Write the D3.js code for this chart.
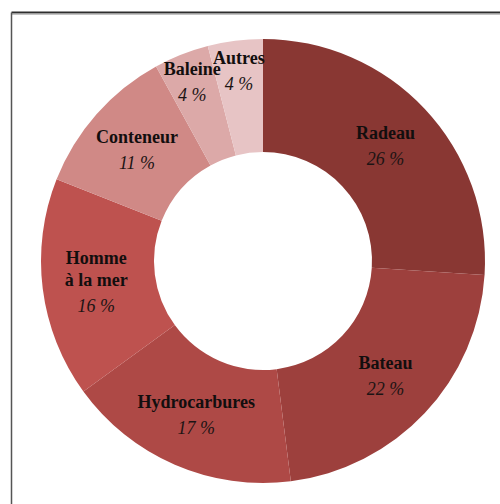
<!DOCTYPE html>
<html>
<head>
<meta charset="utf-8">
<script src="https://cdn.jsdelivr.net/npm/d3@7/dist/d3.min.js"></script>
<style>
  html, body { margin: 0; padding: 0; background: #fff; }
  svg { display: block; }
</style>
</head>
<body>
<svg id="chart" width="500" height="504"></svg>
<script>
// Répartition des objets signalés (en %)
const categories = ["Radeau", "Bateau", "Hydrocarbures", "Homme\nà la mer", "Conteneur", "Baleine", "Autres"];
const values = [26, 22, 17, 16, 11, 4, 4];
const colors = ["#893733", "#9d403d", "#ae4946", "#be524f", "#d08986", "#dca9a8", "#e7c4c5"];

const width = 500, height = 504;
const cx = 263, cy = 261;
const outerR = 222, innerR = 109;

const svg = d3.select("#chart");

// Cadre
svg.append("line").attr("x1", 11.5).attr("y1", 12.5).attr("x2", width).attr("y2", 12.5)
  .attr("stroke", "#2e2e2e").attr("stroke-width", 1.8);
svg.append("line").attr("x1", 11.5).attr("y1", 14.2).attr("x2", width).attr("y2", 14.2)
  .attr("stroke", "#aaa").attr("stroke-width", 1);
svg.append("line").attr("x1", 11.5).attr("y1", 12.5).attr("x2", 11.5).attr("y2", height)
  .attr("stroke", "#555").attr("stroke-width", 1.5);

const data = categories.map((c, i) => ({ name: c, value: values[i], color: colors[i] }));

const pie = d3.pie().value(d => d.value).sort(null);
const arcs = pie(data);

const arc = d3.arc().innerRadius(innerR).outerRadius(outerR);
const labelArcBig = d3.arc().innerRadius(168).outerRadius(168);
const labelArcSmall = d3.arc().innerRadius(192).outerRadius(192);

const g = svg.append("g").attr("transform", `translate(${cx},${cy})`);

g.selectAll("path.slice")
  .data(arcs)
  .join("path")
  .attr("class", "slice")
  .attr("d", arc)
  .attr("fill", d => d.data.color);

const labels = g.selectAll("g.label")
  .data(arcs)
  .join("g")
  .attr("class", "label")
  .attr("transform", d => {
    const [x, y] = (d.data.value >= 10 ? labelArcBig : labelArcSmall).centroid(d);
    return `translate(${x},${y})`;
  });

labels.each(function(d) {
  const sel = d3.select(this);
  const lines = d.data.name.split("\n");
  const lineH = 22;
  const gap = 26;
  const total = (lines.length - 1) * lineH + gap;
  const y0 = -total / 2 + 6;
  lines.forEach((ln, i) => {
    sel.append("text")
      .attr("x", 0)
      .attr("y", y0 + i * lineH)
      .attr("text-anchor", "middle")
      .attr("font-family", "'Liberation Serif', 'Times New Roman', serif")
      .attr("font-weight", "bold")
      .attr("font-size", 18)
      .attr("fill", "#120e0e")
      .text(ln);
  });
  sel.append("text")
    .attr("x", 0)
    .attr("y", y0 + (lines.length - 1) * lineH + gap)
    .attr("text-anchor", "middle")
    .attr("font-family", "'Liberation Serif', 'Times New Roman', serif")
    .attr("font-style", "italic")
    .attr("font-size", 18)
    .attr("fill", "#1c1414")
    .text(d.data.value + " %");
});
</script>
</body>
</html>
